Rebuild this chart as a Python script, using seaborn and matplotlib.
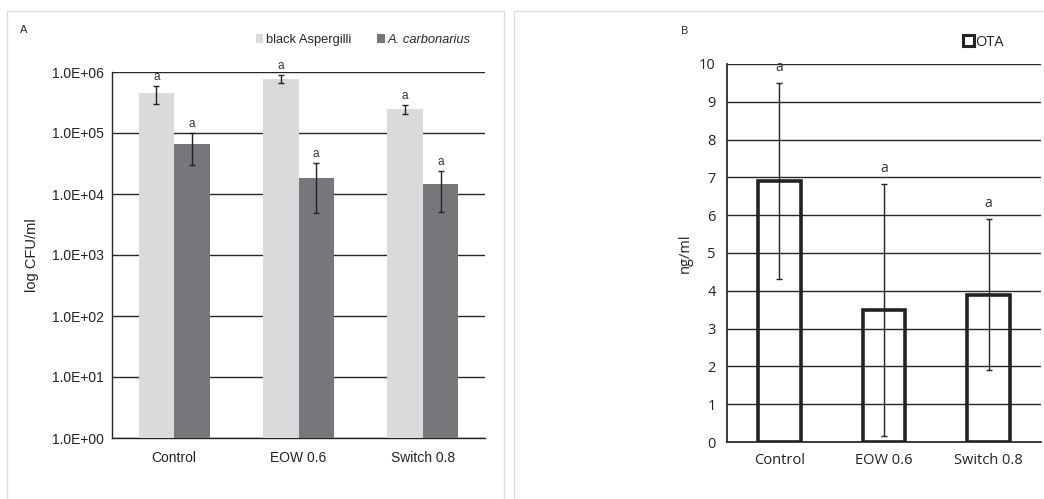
import numpy as np
import pandas as pd
import matplotlib
matplotlib.use("Agg")
import matplotlib.pyplot as plt
from matplotlib.patches import Rectangle, Patch
import seaborn as sns

# ---- data ----
treatments = ["Control", "EOW 0.6", "Switch 0.8"]
organisms = ["black Aspergilli", "A. carbonarius"]
black_asp = [4.5e5, 7.7e5, 2.47e5]
black_asp_sd = [1.5e5, 1.2e5, 4.5e4]
a_carb = [6.5e4, 1.83e4, 1.44e4]
a_carb_sd = [3.5e4, 1.35e4, 9.3e3]
letters_a = [["a", "a", "a"], ["a", "a", "a"]]

ota = [6.9, 3.5, 3.9]
ota_sd = [2.6, 3.33, 2.0]
letters_b = ["a", "a", "a"]

ytick_a = [1e0, 1e1, 1e2, 1e3, 1e4, 1e5, 1e6]
ytick_a_labels = ["1.0E+00", "1.0E+01", "1.0E+02", "1.0E+03", "1.0E+04", "1.0E+05", "1.0E+06"]

sns.set_theme(style="white")
plt.rcParams["font.family"] = ["Liberation Sans", "DejaVu Sans"]

light = "#d9dadc"
dark = "#76777a"
grid_c = "#262626"

fig = plt.figure(figsize=(10.44, 4.99), dpi=100)

# panel frames
fig.patches.append(Rectangle((7 / 1044, -0.05), (504 - 7) / 1044, 1.05 - 11 / 499,
                             transform=fig.transFigure, fill=False, edgecolor="#dddddd", lw=1.0))
fig.patches.append(Rectangle((514 / 1044, -0.05), (1050 - 514) / 1044, 1.05 - 11 / 499,
                             transform=fig.transFigure, fill=False, edgecolor="#dddddd", lw=1.0))

# ---------- Panel A ----------
axA = fig.add_axes([112 / 1044, 1 - 438 / 499, (485 - 112) / 1044, (438 - 72) / 499])
dfA = pd.DataFrame({
    "treatment": treatments * 2,
    "organism": [organisms[0]] * 3 + [organisms[1]] * 3,
    "value": black_asp + a_carb,
    "sd": black_asp_sd + a_carb_sd,
})
sns.barplot(data=dfA, x="treatment", y="value", hue="organism", hue_order=organisms,
            order=treatments, palette=[light, dark], width=0.57, errorbar=None,
            saturation=1, ax=axA, legend=False, zorder=3, linewidth=0)
axA.set_yscale("log")
axA.set_ylim(1, 1e6)
axA.set_xlim(-0.5, 2.5)
barsA = sorted([p for p in axA.patches if isinstance(p, Rectangle)], key=lambda p: p.get_x())
xcA = [p.get_x() + p.get_width() / 2 for p in barsA]
series = [(black_asp, black_asp_sd), (a_carb, a_carb_sd)]
for i, (vals, sds) in enumerate(series):
    xs = xcA[i::2]
    axA.errorbar(xs, vals, yerr=sds, fmt="none", ecolor="#222222", elinewidth=1.0,
                 capsize=2.3, capthick=1.0, zorder=4)
    for x, v, s, t in zip(xs, vals, sds, letters_a[i]):
        axA.text(x, (v + s) * 1.12, t, ha="center", va="bottom", fontsize=8.5, color="#333333")
axA.set_yticks(ytick_a)
axA.set_yticklabels(ytick_a_labels)
axA.minorticks_off()
axA.yaxis.grid(True, color=grid_c, lw=1.0, zorder=0)
axA.set_axisbelow(True)
for s in ["top", "right"]:
    axA.spines[s].set_visible(False)
axA.spines["left"].set_color(grid_c)
axA.spines["bottom"].set_color(grid_c)
axA.spines["left"].set_linewidth(1.0)
axA.spines["bottom"].set_linewidth(1.0)
axA.tick_params(axis="both", length=0, labelsize=10, colors="#222222", pad=6)
axA.tick_params(axis="x", pad=9)
axA.set_xlabel("")
axA.set_ylabel("log CFU/ml", fontsize=10.5, color="#222222")
axA.yaxis.set_label_coords(-0.195, 0.5)

handlesA = [Patch(facecolor=light, edgecolor="none"), Patch(facecolor=dark, edgecolor="none")]
legA = fig.legend(handlesA, organisms, loc="center left", bbox_to_anchor=(244 / 1044, 1 - 40 / 499),
                  ncol=2, frameon=False, fontsize=9.3, handlelength=0.6, handleheight=0.6,
                  handletextpad=0.2, columnspacing=2.0)
legA.get_texts()[1].set_fontstyle("italic")

fig.text(20 / 1044, 1 - 30 / 499, "A", fontsize=8, ha="left", va="center", color="#222222")

# ---------- Panel B ----------
ob_font = ["Open Sans", "DejaVu Sans"]
axB = fig.add_axes([727 / 1044, 1 - 442 / 499, (1041 - 727) / 1044, (442 - 64) / 499])
dfB = pd.DataFrame({"treatment": treatments, "value": ota, "sd": ota_sd})
sns.barplot(data=dfB, x="treatment", y="value", order=treatments, width=0.41,
            errorbar=None, fill=False, edgecolor="#222222", linewidth=2.6, ax=axB, zorder=3)
axB.set_ylim(0, 10)
axB.set_xlim(-0.5, 2.5)
barsB = sorted([p for p in axB.patches if isinstance(p, Rectangle)], key=lambda p: p.get_x())
xsB = [p.get_x() + p.get_width() / 2 for p in barsB]
axB.errorbar(xsB, ota, yerr=ota_sd, fmt="none", ecolor="#222222", elinewidth=1.0,
             capsize=2.3, capthick=1.0, zorder=4)
for x, v, s, t in zip(xsB, ota, ota_sd, letters_b):
    axB.text(x, v + s + 0.2, t, ha="center", va="bottom", fontsize=10, color="#333333",
             family=ob_font)
axB.set_yticks(range(0, 11))
axB.yaxis.grid(True, color=grid_c, lw=1.0, zorder=0)
axB.set_axisbelow(True)
for s in ["top", "right"]:
    axB.spines[s].set_visible(False)
axB.spines["left"].set_color(grid_c)
axB.spines["bottom"].set_color(grid_c)
axB.tick_params(axis="both", length=0, labelsize=10.5, colors="#222222")
axB.tick_params(axis="y", pad=8)
axB.tick_params(axis="x", pad=8)
for lab in axB.get_xticklabels() + axB.get_yticklabels():
    lab.set_family(ob_font)
axB.set_xlabel("")
axB.set_ylabel("ng/ml", fontsize=10.5, color="#222222", family=ob_font)
axB.yaxis.set_label_coords(-0.11, 0.5)

handlesB = [Patch(facecolor="white", edgecolor="#222222", lw=2.2)]
legB = fig.legend(handlesB, ["OTA"], loc="center left", bbox_to_anchor=(950 / 1044, 1 - 42 / 499),
                  frameon=False, handlelength=0.75, handleheight=0.75,
                  handletextpad=0.1, prop={"family": ob_font, "size": 10.5})

fig.text(681 / 1044, 1 - 32 / 499, "B", fontsize=8, ha="left", va="center", color="#222222",
         family=ob_font)

fig.savefig("out.png", dpi=100)
